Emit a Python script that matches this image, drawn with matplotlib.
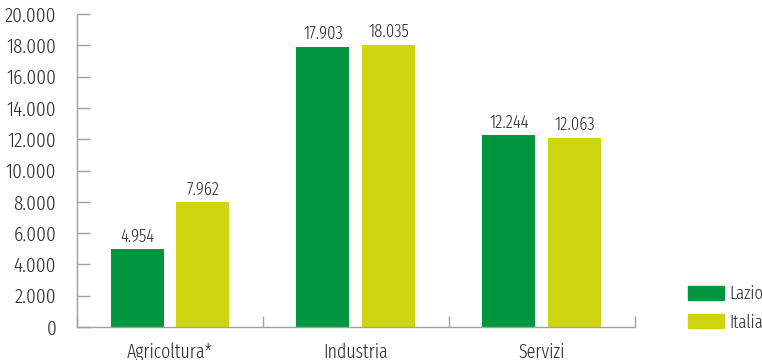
import matplotlib.pyplot as plt
import numpy as np
from matplotlib.ticker import FuncFormatter
from matplotlib.patches import Patch

plt.rcParams['font.family'] = ['Fira Sans Extra Condensed', 'DejaVu Sans']
plt.rcParams['font.weight'] = 300

categorie = ["Agricoltura*", "Industria", "Servizi"]
lazio = [4954, 17903, 12244]
italia = [7962, 18035, 12063]
serie = ["Lazio", "Italia"]

VERDE = "#00963f"
GIALLO = "#cdd50e"
TESTO = "#2b2b2b"
ASSE = "#a0a0a0"


def fmt_it(v, _=None):
    return f"{v:,.0f}".replace(",", ".")


fig = plt.figure(figsize=(7.62, 3.6), dpi=100)
ax = fig.add_axes([0.101, 0.0917, 0.732, 0.869])

x = np.arange(len(categorie))
w = 0.285
off = 0.177
b1 = ax.bar(x - off, lazio, width=w, color=VERDE, label=serie[0])
b2 = ax.bar(x + off, italia, width=w, color=GIALLO, label=serie[1])

for bars, vals in ((b1, lazio), (b2, italia)):
    for r, v in zip(bars, vals):
        ax.annotate(fmt_it(v), (r.get_x() + r.get_width() / 2, v),
                    xytext=(0, 3), textcoords="offset points",
                    ha="center", va="bottom", fontsize=13, color=TESTO)

ax.set_xlim(-0.5, len(categorie) - 0.5)
ax.set_ylim(0, 20000)
ax.set_yticks(np.arange(0, 20001, 2000))
ax.yaxis.set_major_formatter(FuncFormatter(fmt_it))

# etichette centrate, tacche di separazione tra i gruppi
ax.set_xticks(x)
ax.set_xticklabels(categorie)
ax.set_xticks(np.arange(-0.5, len(categorie)), minor=True)
ax.tick_params(axis="x", which="major", length=0, pad=11, labelsize=14, labelcolor=TESTO)
ax.tick_params(axis="x", which="minor", direction="in", length=8, color=ASSE, width=1)
ax.tick_params(axis="y", direction="in", length=9, color=ASSE, width=1,
               pad=15, labelsize=15, labelcolor=TESTO)

for s in ("top", "right"):
    ax.spines[s].set_visible(False)
for s in ("left", "bottom"):
    ax.spines[s].set_color(ASSE)
    ax.spines[s].set_linewidth(1)

handles = [Patch(color=VERDE, label=serie[0]), Patch(color=GIALLO, label=serie[1])]
fig.legend(handles=handles, loc="lower left", bbox_to_anchor=(0.903, 0.08),
           frameon=False, fontsize=13, handlelength=2.0, handleheight=0.8,
           handletextpad=0.3, labelspacing=0.6, borderpad=0, borderaxespad=0,
           labelcolor=TESTO)

fig.savefig("out.png", dpi=100)
